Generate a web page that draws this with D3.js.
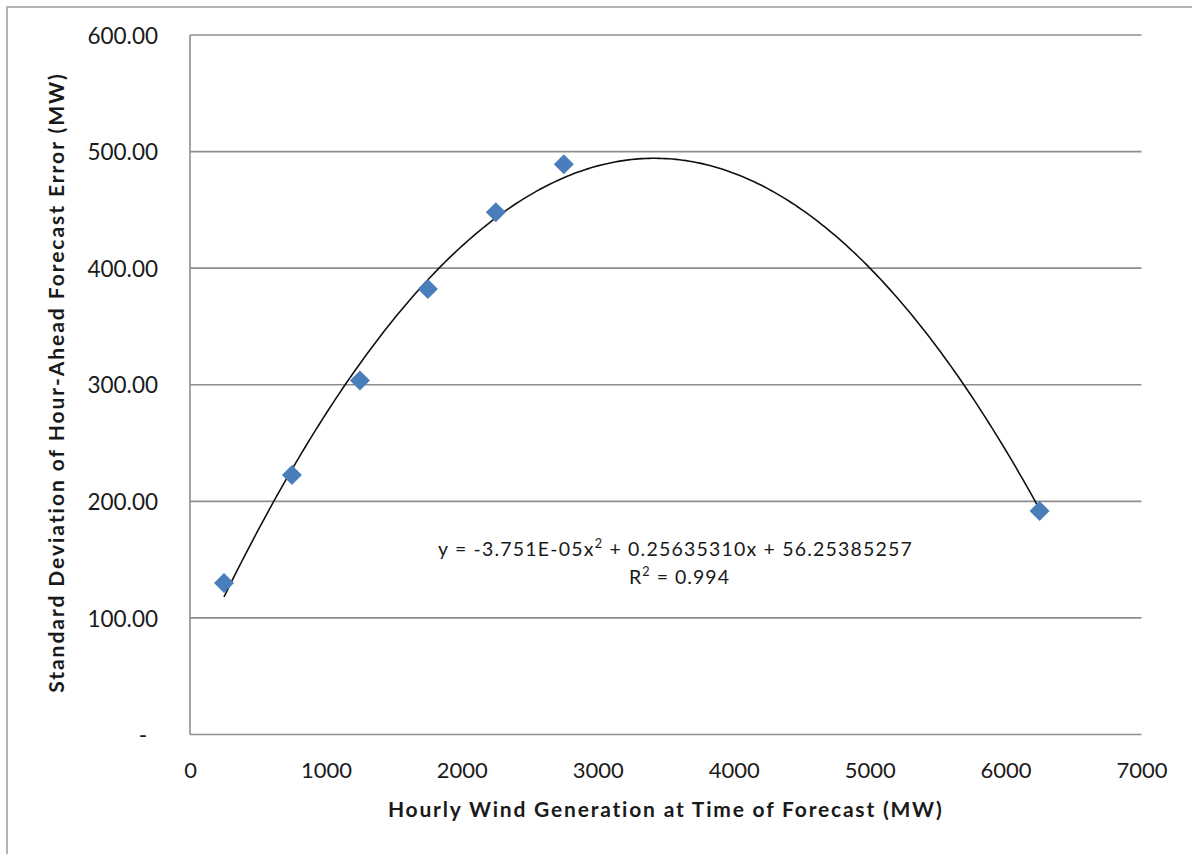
<!DOCTYPE html>
<html>
<head>
<meta charset="utf-8">
<script src="https://cdn.jsdelivr.net/npm/d3@7"></script>
<style>
  html, body { margin: 0; padding: 0; background: #fff; }
  svg { display: block; }
  text { font-family: Lato, "Open Sans", sans-serif; fill: #1a1a1a; }
</style>
</head>
<body>
<svg id="chart" width="1192" height="854"></svg>
<script>
// ---- data ----
const xValues = [250, 750, 1250, 1750, 2250, 2750, 6250];
const yValues = [130, 222.6, 303.6, 382.2, 448, 489.2, 191.8];
const trendCoefficients = [-3.751e-5, 0.25635310, 56.25385257]; // a, b, c of y = a x^2 + b x + c
const trendRange = [250, 6250];
const xTicks = [0, 1000, 2000, 3000, 4000, 5000, 6000, 7000];
const yTicks = [0, 100, 200, 300, 400, 500, 600];
const yTickLabels = ["-", "100.00", "200.00", "300.00", "400.00", "500.00", "600.00"];
const xTitle = "Hourly Wind Generation at Time of Forecast (MW)";
const yTitle = "Standard Deviation of Hour-Ahead Forecast Error (MW)";
const equationText = ["y = -3.751E-05x", "2", " + 0.25635310x + 56.25385257"];
const r2Text = ["R", "2", " = 0.994"];

// ---- layout ----
const W = 1192, H = 854;
const plot = { left: 190, right: 1141.5, top: 35, bottom: 734.5 };
const svg = d3.select("#chart");

svg.append("rect").attr("width", W).attr("height", H).attr("fill", "#fff");
// outer chart border (only top/left visible in the crop)
svg.append("rect").attr("x", 7).attr("y", 7).attr("width", W + 20).attr("height", H + 20)
  .attr("fill", "none").attr("stroke", "#b3b3b3").attr("stroke-width", 2);

const x = d3.scaleLinear().domain([0, 7000]).range([plot.left, plot.right]);
const y = d3.scaleLinear().domain([0, 600]).range([plot.bottom, plot.top]);

// fit a text element to a target width using letter-spacing
function fitWidth(sel, target) {
  const node = sel.node();
  const len = node.getComputedTextLength();
  const n = node.textContent.length;
  if (n > 1) sel.attr("letter-spacing", (target - len) / n);
}

// gridlines
svg.append("g").selectAll("line").data(yTicks.filter(d => d > 0)).join("line")
  .attr("x1", plot.left).attr("x2", plot.right)
  .attr("y1", d => y(d)).attr("y2", d => y(d))
  .attr("stroke", "#8e8e8e").attr("stroke-width", 1.6);

// axis lines
svg.append("line").attr("x1", x(0)).attr("x2", x(7000)).attr("y1", y(0)).attr("y2", y(0))
  .attr("stroke", "#8e8e8e").attr("stroke-width", 1.6);
svg.append("line").attr("x1", x(0)).attr("x2", x(0)).attr("y1", y(0)).attr("y2", y(600))
  .attr("stroke", "#8e8e8e").attr("stroke-width", 1.6);

// y axis labels
const yAxis = d3.axisLeft(y).tickValues(yTicks).tickSize(0).tickPadding(0)
  .tickFormat((d, i) => yTickLabels[i]);
const gy = svg.append("g").attr("transform", `translate(158,0)`).call(yAxis);
gy.select(".domain").remove();
gy.selectAll("text").attr("font-size", 22.5).attr("font-family", "Lato, sans-serif")
  .attr("fill", "#1a1a1a").attr("dy", "0.36em")
  .attr("dx", (d) => d === 0 ? -11 : 0);

// x axis labels
const xAxis = d3.axisBottom(x).tickValues(xTicks).tickSize(0).tickPadding(0)
  .tickFormat(d3.format("d"));
const gx = svg.append("g").attr("transform", `translate(0,778)`).call(xAxis);
gx.select(".domain").remove();
gx.selectAll("text").attr("font-size", 22).attr("font-family", "Lato, sans-serif")
  .attr("fill", "#1a1a1a").attr("dy", 0);

// axis titles
const xt = svg.append("text").attr("x", (plot.left + plot.right) / 2).attr("y", 817)
  .attr("text-anchor", "middle").attr("font-weight", "bold").attr("font-size", 21)
  .text(xTitle);
fitWidth(xt, 556);
const yt = svg.append("text").attr("transform", `translate(64,382.5) rotate(-90)`)
  .attr("text-anchor", "middle").attr("font-weight", "bold").attr("font-size", 21)
  .text(yTitle);
fitWidth(yt, 621);

// trendline
const trendPts = d3.range(trendRange[0], trendRange[1] + 1, 25).map(v => [v,
  trendCoefficients[0] * v * v + trendCoefficients[1] * v + trendCoefficients[2]]);
svg.append("path").datum(trendPts)
  .attr("d", d3.line().x(d => x(d[0])).y(d => y(d[1])))
  .attr("fill", "none").attr("stroke", "#111").attr("stroke-width", 1.6);

// data diamonds
const pts = xValues.map((v, i) => [v, yValues[i]]);
const r = 10;
svg.append("g").selectAll("path").data(pts).join("path")
  .attr("d", d => `M${x(d[0])},${y(d[1]) - r}L${x(d[0]) + r},${y(d[1])}L${x(d[0])},${y(d[1]) + r}L${x(d[0]) - r},${y(d[1])}Z`)
  .attr("fill", "#4a7ebb");

// equation
function supText(sel, parts) {
  sel.append("tspan").text(parts[0]);
  sel.append("tspan").attr("dy", -8).attr("font-size", "0.65em").text(parts[1]);
  sel.append("tspan").attr("dy", 8).text(parts[2]);
}
const eq = svg.append("text").attr("x", 675.5).attr("y", 556).attr("text-anchor", "middle")
  .attr("font-size", 19.5);
supText(eq, equationText);
fitWidth(eq, 475);
const r2 = svg.append("text").attr("x", 679.5).attr("y", 584).attr("text-anchor", "middle")
  .attr("font-size", 19.5);
supText(r2, r2Text);
fitWidth(r2, 101);
</script>
</body>
</html>
